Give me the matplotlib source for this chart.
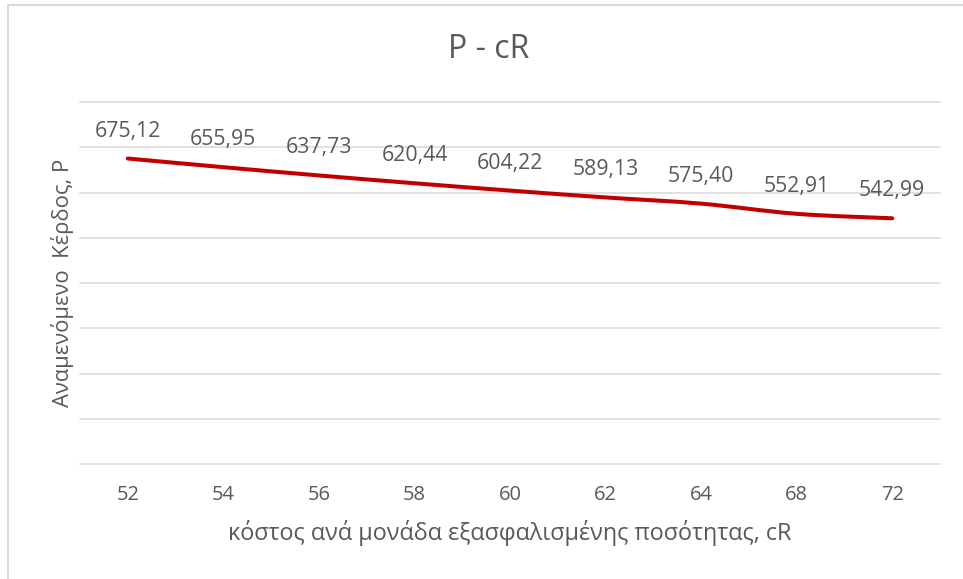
import numpy as np
import matplotlib
matplotlib.use('Agg')
import matplotlib.pyplot as plt
from matplotlib.path import Path
from matplotlib.patches import PathPatch, Rectangle

plt.rcParams['font.family'] = ['Open Sans', 'DejaVu Sans']

# data
cr_labels = ['52', '54', '56', '58', '60', '62', '64', '68', '72']
profit = [675.12, 655.95, 637.73, 620.44, 604.22, 589.13, 575.40, 552.91, 542.99]

txt = '#595959'
grid = '#d9d9d9'
red = '#c00000'

fig = plt.figure(figsize=(9.63, 5.79), dpi=100)
ax = fig.add_axes([80/963, 1-464/579, 860/963, 362/579])

x = np.arange(len(profit))
y = np.array(profit)

# smoothed line (bezier through the points, like excel's smooth line)
verts = [(x[0], y[0])]
codes = [Path.MOVETO]
n = len(x)
for i in range(n-1):
    p0 = np.array([x[max(i-1, 0)], y[max(i-1, 0)]])
    p1 = np.array([x[i], y[i]])
    p2 = np.array([x[i+1], y[i+1]])
    p3 = np.array([x[min(i+2, n-1)], y[min(i+2, n-1)]])
    c1 = p1 + (p2 - p0)/6
    c2 = p2 - (p3 - p1)/6
    verts += [tuple(c1), tuple(c2), tuple(p2)]
    codes += [Path.CURVE4]*3
ax.add_patch(PathPatch(Path(verts, codes), fill=False, edgecolor=red,
                       lw=2.9, capstyle='round', joinstyle='round', zorder=3))

for xi, yi in zip(x, y):
    ax.annotate(('%.2f' % yi).replace('.', ','), (xi, yi), xytext=(0, 22),
                textcoords='offset pixels', ha='center', va='baseline',
                fontsize=15.3, color=txt)

ax.set_xlim(-0.5, n-0.5)
ax.set_ylim(0, 800)
for v in range(0, 801, 100):
    ax.axhline(v, color=grid, lw=1.1, zorder=1, clip_on=False)

for s in ax.spines.values():
    s.set_visible(False)
ax.set_xticks(x)
ax.set_xticklabels(cr_labels, fontsize=14.5, color=txt)
ax.tick_params(axis='x', length=0, pad=15)
ax.set_yticks([])

ax.set_xlabel('κόστος ανά μονάδα εξασφαλισμένης ποσότητας, cR', fontsize=16.8,
              color=txt, labelpad=11)
ax.set_ylabel('Αναμενόμενο  Κέρδος, P', fontsize=15.8, color=txt, labelpad=4)
fig.text(489/963, 1-50/579, 'P - cR', ha='center', va='center', fontsize=23,
         color=txt)

# outer chart border
fig.patches.append(Rectangle((8/963, -0.1), 1.2, 1-5/579+0.1,
                             transform=fig.transFigure, fill=False,
                             edgecolor=grid, lw=1.5))

fig.savefig('out.png', dpi=100)
